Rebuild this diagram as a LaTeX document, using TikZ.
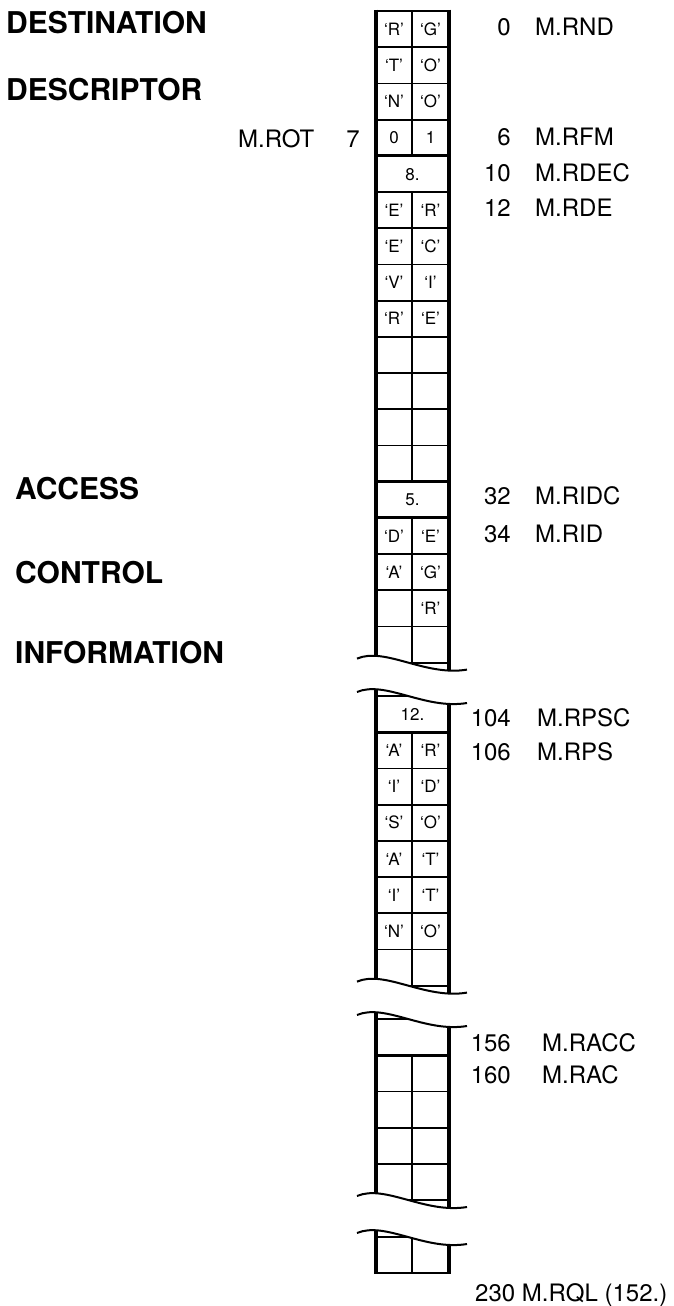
\documentclass[tikz,border=0pt]{standalone}
\usepackage{fontspec}
\setmainfont{TeX Gyre Heros}
\tikzset{
  outer/.style={line width=3.2pt},
  inner/.style={line width=1.8pt},
  thickh/.style={line width=2.8pt},
  wavel/.style={line width=2pt},
  cell/.style={font=\fontsize{17}{17}\selectfont, anchor=base, inner sep=0pt},
  num/.style={font=\fontsize{24}{24}\selectfont, anchor=base east, inner sep=0pt},
  lab/.style={font=\fontsize{24}{24}\selectfont, anchor=base west, inner sep=0pt},
  head/.style={font=\fontsize{30}{30}\selectfont\bfseries, anchor=base west, inner sep=0pt},
  wavefwd/.style={insert path={(357,{#1-4}) .. controls (385,{#1-16}) and (425,{#1+14}) .. (467,{#1+7})}},
  wavefwdc/.style={insert path={-- (357,{#1-4}) .. controls (385,{#1-16}) and (425,{#1+14}) .. (467,{#1+7})}},
  wavebwdc/.style={insert path={-- (467,{#1+7}) .. controls (425,{#1+14}) and (385,{#1-16}) .. (357,{#1-4})}},
}
\def\h{36.2}
\def\cs{6.1}
\begin{document}
\begin{tikzpicture}[x=1pt,y=-1pt]
\useasboundingbox (0,0) rectangle (674,1306);
\fill[white] (0,0) rectangle (674,1306);

% ---------- segment 1 : top 11, wave at B1 ----------
\def\Ta{11}
\pgfmathsetmacro\Ba{11+18*\h}
\begin{scope}
  \clip (330,0) -- (480,0) -- (480,{\Ba+7}) [wavebwdc=\Ba] -- (330,{\Ba-4}) -- cycle;
  \draw[outer] (376,9.6) -- (376,{\Ba+25});
  \draw[outer] (449,9.6) -- (449,{\Ba+25});
  \draw[inner] (412,\Ta) -- (412,{\Ta+4*\h});
  \draw[inner] (412,{\Ta+5*\h}) -- (412,{\Ta+13*\h});
  \draw[inner] (412,{\Ta+14*\h}) -- (412,{\Ba+25});
  \foreach \i in {1,2,3,6,7,8,9,10,11,12,15,16,17,18}
    \draw[inner] (376,{\Ta+\i*\h}) -- (449,{\Ta+\i*\h});
  \foreach \i in {0,4,5,13,14}
    \draw[thickh] (376,{\Ta+\i*\h}) -- (449,{\Ta+\i*\h});
\end{scope}
\foreach \r/\a/\b in {0/{‘R’}/{‘G’},1/{‘T’}/{‘O’},2/{‘N’}/{‘O’},3/0/1,
    5/{‘E’}/{‘R’},6/{‘E’}/{‘C’},7/{‘V’}/{‘I’},8/{‘R’}/{‘E’},
    14/{‘D’}/{‘E’},15/{‘A’}/{‘G’},16/{}/{‘R’}}{
  \node[cell] (sa-l\r) at (394,{\Ta+(\r+0.5)*\h+\cs}) {\a};
  \node[cell] (sa-r\r) at (430.5,{\Ta+(\r+0.5)*\h+\cs}) {\b};
}
\node[cell] (sa-m4) at (412.5,{\Ta+4.5*\h+\cs}) {8.};
\node[cell] (sa-m13) at (412.5,{\Ta+13.5*\h+\cs}) {5.};
\draw[wavel] [wavefwd=\Ba];

% ---------- segment 2 ----------
\def\Tb{696}
\pgfmathsetmacro\Bb{696+8*\h}
\draw[wavel] [wavefwd=\Tb];
\begin{scope}
  \clip (330,{\Tb-4}) [wavefwdc=\Tb] -- (480,{\Tb+7}) -- (480,{\Bb+7}) [wavebwdc=\Bb] -- (330,{\Bb-4}) -- cycle;
  \draw[outer] (376,{\Tb-25}) -- (376,{\Bb+25});
  \draw[outer] (449,{\Tb-25}) -- (449,{\Bb+25});
  \draw[inner] (412,{\Tb+\h}) -- (412,{\Bb+25});
  \foreach \i in {2,3,4,5,6,7,8}
    \draw[inner] (376,{\Tb+\i*\h}) -- (449,{\Tb+\i*\h});
  \foreach \i in {0,1}
    \draw[thickh] (376,{\Tb+\i*\h}) -- (449,{\Tb+\i*\h});
\end{scope}
\node[cell] (sb-m0) at (412.5,{\Tb+0.5*\h+\cs}) {12.};
\foreach \r/\a/\b in {1/{‘A’}/{‘R’},2/{‘I’}/{‘D’},3/{‘S’}/{‘O’},4/{‘A’}/{‘T’},
    5/{‘I’}/{‘T’},6/{‘N’}/{‘O’}}{
  \node[cell] (sb-l\r) at (394,{\Tb+(\r+0.5)*\h+\cs}) {\a};
  \node[cell] (sb-r\r) at (430.5,{\Tb+(\r+0.5)*\h+\cs}) {\b};
}
\draw[wavel] [wavefwd=\Bb];

% ---------- segment 3 ----------
\def\Tc{1019}
\pgfmathsetmacro\Bc{1019+5*\h}
\draw[wavel] [wavefwd=\Tc];
\begin{scope}
  \clip (330,{\Tc-4}) [wavefwdc=\Tc] -- (480,{\Tc+7}) -- (480,{\Bc+7}) [wavebwdc=\Bc] -- (330,{\Bc-4}) -- cycle;
  \draw[outer] (376,{\Tc-25}) -- (376,{\Bc+25});
  \draw[outer] (449,{\Tc-25}) -- (449,{\Bc+25});
  \draw[inner] (412,{\Tc+\h}) -- (412,{\Bc+25});
  \foreach \i in {2,3,4,5}
    \draw[inner] (376,{\Tc+\i*\h}) -- (449,{\Tc+\i*\h});
  \foreach \i in {0,1}
    \draw[thickh] (376,{\Tc+\i*\h}) -- (449,{\Tc+\i*\h});
\end{scope}
\draw[wavel] [wavefwd=\Bc];

% ---------- segment 4 ----------
\def\Td{1237}
\def\Bd{1273}
\draw[wavel] [wavefwd=\Td];
\begin{scope}
  \clip (330,{\Td-4}) [wavefwdc=\Td] -- (480,{\Td+7}) -- (480,1300) -- (330,1300) -- cycle;
  \draw[outer] (376,{\Td-25}) -- (376,{\Bd+1.4});
  \draw[outer] (449,{\Td-25}) -- (449,{\Bd+1.4});
  \draw[inner] (412,{\Td-25}) -- (412,\Bd);
  \draw[inner] (376,\Td) -- (449,\Td);
  \draw[thickh] (376,\Bd) -- (449,\Bd);
\end{scope}

% ---------- left headings ----------
\node[head] (h1) at (6,34) {DESTINATION};
\node[head] (h2) at (6,100) {DESCRIPTOR};
\node[head] (h3) at (15,499) {ACCESS};
\node[head] (h4) at (15,583) {CONTROL};
\node[head] (h5) at (15,663) {INFORMATION};
\node[lab] (rot) at (238,147.6) {M.ROT};
\node[num] (rotn) at (360,147.6) {7};

% ---------- right labels ----------
\foreach \y/\n/\t/\xx in {27/0/M.RND/535, 137/6/M.RFM/535, 173/10/M.RDEC/535, 208/12/M.RDE/535,
    496/32/M.RIDC/535, 534/34/M.RID/535, 718/104/M.RPSC/537, 752/106/M.RPS/537,
    1043/156/M.RACC/542, 1075/160/M.RAC/542}{
  \node[num] (n\n) at (511,{\y+8.6}) {\n};
  \node[lab] (t\n) at (\xx,{\y+8.6}) {\t};
}
\node[lab] (rql) at (475,1301.6) {230 M.RQL (152.)};
\end{tikzpicture}
\end{document}
